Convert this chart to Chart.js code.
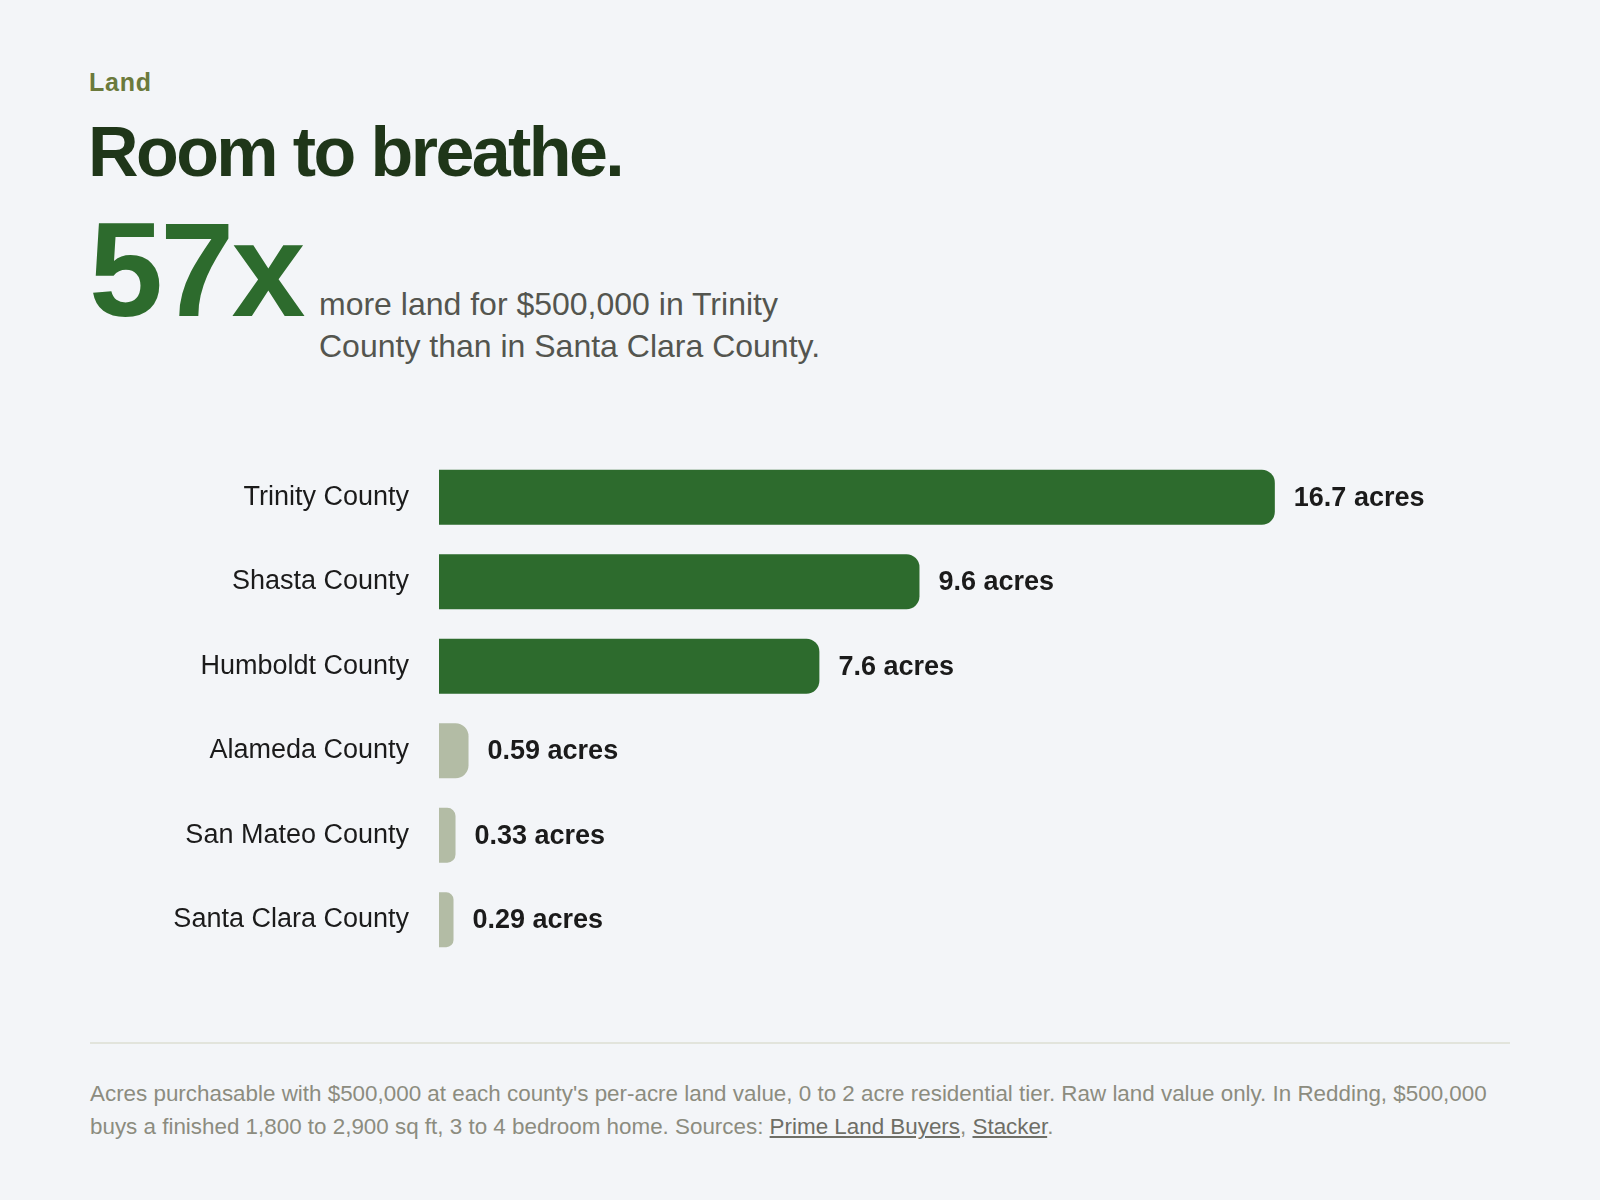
<!DOCTYPE html>
<html>
<head>
<meta charset="utf-8">
<script src="https://cdn.jsdelivr.net/npm/chart.js@4.4.1/dist/chart.umd.min.js"></script>
<style>
  html, body { margin: 0; padding: 0; }
  body { width: 1600px; height: 1200px; background: #f3f5f8; font-family: "Liberation Sans", Arial, sans-serif; position: relative; overflow: hidden; }
  .abs { position: absolute; }
  #eyebrow { left: 89px; top: 70px; font-size: 25px; line-height: 24px; font-weight: 700; color: #6b7a3c; letter-spacing: 0.03em; }
  #title { left: 88px; top: 117px; font-size: 70px; line-height: 70px; font-weight: 700; color: #1f3619; letter-spacing: -0.037em; white-space: nowrap; }
  #big { left: 89px; top: 204px; font-size: 133px; line-height: 133px; font-weight: 700; color: #2d6b2d; letter-spacing: -0.02em; }
  #sub { left: 319px; top: 283px; width: 530px; font-size: 32px; line-height: 42px; color: #54554f; }
  #chartBox { left: 90px; top: 455px; width: 1420px; height: 507px; }
  #rule { left: 90px; top: 1042px; width: 1420px; height: 2px; background: #e2e4dc; }
  #foot { left: 90px; top: 1077px; width: 1420px; font-size: 22.4px; line-height: 33px; color: #8c8c7f; }
  #foot a { color: #6e6e66; text-decoration: underline; }
</style>
</head>
<body>
<div class="abs" id="eyebrow">Land</div>
<div class="abs" id="title">Room to breathe.</div>
<div class="abs" id="big">57x</div>
<div class="abs" id="sub">more land for $500,000 in Trinity County than in Santa Clara County.</div>
<div class="abs" id="chartBox"><canvas id="c"></canvas></div>
<div class="abs" id="rule"></div>
<div class="abs" id="foot">Acres purchasable with $500,000 at each county's per-acre land value, 0 to 2 acre residential tier. Raw land value only. In Redding, $500,000 buys a finished 1,800 to 2,900 sq ft, 3 to 4 bedroom home. Sources: <a>Prime Land Buyers</a>, <a>Stacker</a>.</div>
<script>
const categories = ["Trinity County", "Shasta County", "Humboldt County", "Alameda County", "San Mateo County", "Santa Clara County"];
const acres = [16.7, 9.6, 7.6, 0.59, 0.33, 0.29];
const valueLabels = ["16.7 acres", "9.6 acres", "7.6 acres", "0.59 acres", "0.33 acres", "0.29 acres"];
const xMax = 20;

const GREEN = "#2d6b2d";
const GREY = "#b3bca5";

const valueLabelPlugin = {
  id: "valueLabels",
  afterDatasetsDraw(chart) {
    const ctx = chart.ctx;
    const meta = chart.getDatasetMeta(0);
    ctx.save();
    ctx.font = "700 27px 'Liberation Sans', Arial, sans-serif";
    ctx.fillStyle = "#1b1b1b";
    ctx.textAlign = "left";
    ctx.textBaseline = "middle";
    meta.data.forEach((bar, i) => {
      ctx.fillText(valueLabels[i], bar.x + 19, bar.y + 1);
    });
    ctx.restore();
  }
};

new Chart(document.getElementById("c"), {
  type: "bar",
  data: {
    labels: categories,
    datasets: [{
      data: acres,
      backgroundColor: (c) => (acres[c.dataIndex] >= 1 ? GREEN : GREY),
      borderRadius: 13,
      borderSkipped: "start",
      categoryPercentage: 1,
      barPercentage: 0.65
    }]
  },
  options: {
    indexAxis: "y",
    responsive: true,
    maintainAspectRatio: false,
    animation: false,
    layout: { padding: { left: 0, right: 70, top: 0, bottom: 0 } },
    plugins: { legend: { display: false }, tooltip: { enabled: false } },
    scales: {
      x: { display: false, min: 0, max: xMax },
      y: {
        grid: { display: false, drawTicks: false },
        border: { display: false },
        ticks: {
          padding: 30,
          color: "#1b1b1b",
          font: { family: "'Liberation Sans', Arial, sans-serif", size: 27 }
        },
        afterFit(scale) {
          scale.width = 349;
          scale.paddingTop = 0;
          scale.paddingBottom = 0;
        }
      }
    }
  },
  plugins: [valueLabelPlugin]
});
</script>
</body>
</html>
